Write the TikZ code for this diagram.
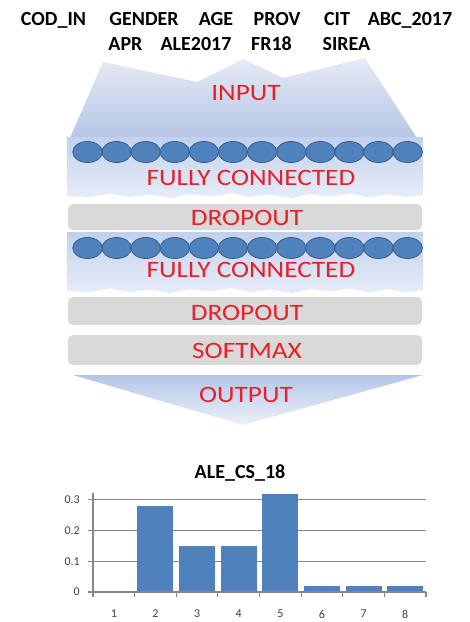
\documentclass[tikz,border=0pt]{standalone}
\usepackage{fontspec}
\setmainfont{Carlito}
\usetikzlibrary{shapes.geometric}
\definecolor{redtxt}{HTML}{E8202A}
\definecolor{dotfill}{HTML}{4F81BD}
\definecolor{dotdraw}{HTML}{385D8A}
\definecolor{graybox}{HTML}{D9D9D9}
\definecolor{barblue}{HTML}{4F81BD}
\definecolor{gridc}{HTML}{878787}
\definecolor{axlbl}{HTML}{404040}
\definecolor{intop}{HTML}{E6EAF4}
\definecolor{inbot}{HTML}{B6C6E5}
\definecolor{fctop}{HTML}{C2D1EC}
\definecolor{fcbot}{HTML}{E6EDF8}
\definecolor{outtop}{HTML}{B3C6E8}
\definecolor{outbot}{HTML}{EDF1F9}
\tikzset{
  hdr/.style={font=\fontsize{20}{20}\selectfont\bfseries, inner sep=0pt, anchor=base},
  layerlbl/.style={font=\fontsize{23.5}{23.5}\selectfont, text=redtxt, inner sep=0pt, anchor=base, xscale=1.16},
  dotnode/.style={ellipse, minimum width=29.5pt, minimum height=21pt, fill=dotfill, draw=dotdraw, line width=0.8pt, inner sep=0pt},
  grayband/.style={fill=graybox, rounded corners=5pt},
  gridline/.style={draw=gridc, line width=1.1pt},
  bar/.style={fill=barblue},
  ticklbl/.style={font=\fontsize{12}{12}\selectfont, text=axlbl, inner sep=0pt},
  ctitle/.style={font=\fontsize{20}{20}\selectfont\bfseries, inner sep=0pt, anchor=base}
}
\begin{document}
\begin{tikzpicture}[x=1pt, y=-1pt]
\useasboundingbox[fill=white] (0,0) rectangle (470,622);

% header labels
\node[hdr] (codin) at (53.5,25.5) {COD\_IN};
\node[hdr] (gender) at (144,25.5) {GENDER};
\node[hdr] (age) at (216,25.5) {AGE};
\node[hdr] (prov) at (277,25.5) {PROV};
\node[hdr] (cit) at (337,25.5) {CIT};
\node[hdr] (abc) at (410,25.5) {ABC\_2017};
\node[hdr] (apr) at (125.5,50.5) {APR};
\node[hdr] (ale) at (196,50.5) {ALE2017};
\node[hdr] (fr) at (271.5,50.5) {FR18};
\node[hdr] (sirea) at (346.5,50.5) {SIREA};

% input shape
\shade[top color=intop, bottom color=inbot]
  (70,138) -- (103,62) -- (197,82) -- (243,59) -- (283,78) -- (365,58) -- (417,138) -- cycle;
\node[layerlbl] (input) at (246,100) {INPUT};

% FC band 1
\shade[top color=fctop, bottom color=fcbot]
  (67,137) -- (423,137) -- (423,195) -- (405,197) -- (388,194) -- (370,197.5) -- (350,193.5)
  -- (330,196.5) -- (310,194) -- (292,198) -- (270,194.5) -- (250,197) -- (232,193) -- (210,196.5)
  -- (190,194) -- (170,198) -- (150,194.5) -- (130,197) -- (110,193.5) -- (90,197) -- (67,196) -- cycle;
\foreach \i in {0,...,11}{
  \node[dotnode] (da\i) at ({87.5+29.1*\i},152) {};
}
\node[layerlbl] (fc1) at (251,185) {FULLY CONNECTED};

% dropout 1
\path[grayband] (68,204) rectangle (422,230);
\node[layerlbl] (drop1) at (247,225) {DROPOUT};

% FC band 2
\shade[top color=fctop, bottom color=fcbot]
  (67,232) -- (423,232) -- (423,290) -- (405,292) -- (388,289) -- (370,292.5) -- (350,288.5)
  -- (330,291.5) -- (310,289) -- (292,293) -- (270,289.5) -- (250,292) -- (232,288) -- (210,291.5)
  -- (190,289) -- (170,293) -- (150,289.5) -- (130,292) -- (110,288.5) -- (90,292) -- (67,291) -- cycle;
\foreach \i in {0,...,11}{
  \node[dotnode] (db\i) at ({87.5+29.1*\i},248) {};
}
\node[layerlbl] (fc2) at (251,277) {FULLY CONNECTED};

% dropout 2 and softmax
\path[grayband] (68,297) rectangle (422,325);
\node[layerlbl] (drop2) at (247,320) {DROPOUT};
\path[grayband] (68,335) rectangle (422,365);
\node[layerlbl] (soft) at (247,358) {SOFTMAX};

% output chevron
\shade[top color=outtop, bottom color=outbot]
  (73,375) -- (423,375) -- (243,425) -- cycle;
\node[layerlbl] (output) at (246,402) {OUTPUT};

% chart
\node[ctitle] (ctitle) at (240,478) {ALE\_CS\_18};
\foreach \v in {0.1,0.2,0.3}{
  \draw[gridline] (93,{592-307*\v}) -- (426,{592-307*\v});
}
\draw[gridline] (93,493) -- (93,597);
\draw[gridline] (88,592) -- (426,592);
\foreach \v in {0.1,0.2,0.3}{
  \draw[gridline] (88,{592-307*\v}) -- (93,{592-307*\v});
}
\foreach \k in {1,...,8}{
  \draw[gridline] ({93+41.625*\k},592) -- ({93+41.625*\k},597);
}
\foreach \k/\val in {2/0.28, 3/0.15, 4/0.15, 5/0.32, 6/0.02, 7/0.02, 8/0.02}{
  \fill[bar] ({93+41.625*(\k-0.5)-18},591.4) rectangle ({93+41.625*(\k-0.5)+18},{592-307*\val});
}
\node[ticklbl, anchor=east] (y0) at (80,592) {0};
\node[ticklbl, anchor=east] (y1) at (80,561.3) {0.1};
\node[ticklbl, anchor=east] (y2) at (80,530.6) {0.2};
\node[ticklbl, anchor=east] (y3) at (80,499.9) {0.3};
\foreach \k in {1,...,8}{
  \node[ticklbl] (x\k) at ({93+41.625*(\k-0.5)},614) {\k};
}
\end{tikzpicture}
\end{document}
